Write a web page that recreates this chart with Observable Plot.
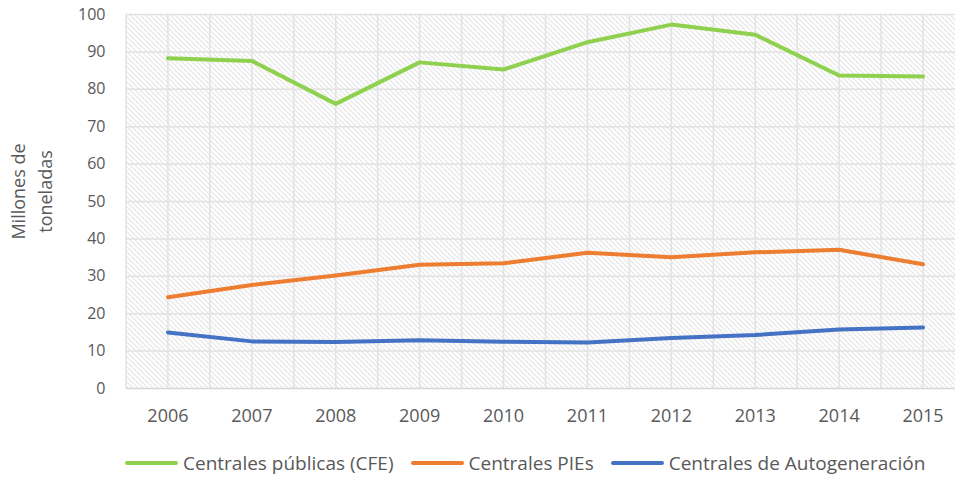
<!DOCTYPE html>
<html>
<head>
<meta charset="utf-8">
<script src="https://cdn.jsdelivr.net/npm/d3@7"></script>
<script src="https://cdn.jsdelivr.net/npm/@observablehq/plot@0.6"></script>
<style>
  html, body { margin: 0; padding: 0; background: #fff; }
  body { width: 955px; height: 479px; overflow: hidden; font-family: "Open Sans", sans-serif; }
  #legend { display: flex; align-items: center; height: 39px; padding-top: 6px; padding-left: 125px; color: #595959; font-size: 19px; box-sizing: border-box; }
  .item { display: flex; align-items: center; margin-right: 17px; white-space: nowrap; }
  .sw { width: 53px; height: 4px; border-radius: 2px; margin-right: 5px; }
</style>
</head>
<body>
<div id="chart"></div>
<div id="legend"></div>
<script>
const years = [2006, 2007, 2008, 2009, 2010, 2011, 2012, 2013, 2014, 2015];
const seriesNames = ["Centrales públicas (CFE)", "Centrales PIEs", "Centrales de Autogeneración"];
const seriesColors = ["#8fd14f", "#ed7d31", "#4472c4"];
const cfe  = [88.3, 87.6, 76.1, 87.2, 85.3, 92.6, 97.3, 94.6, 83.7, 83.4];
const pies = [24.4, 27.7, 30.2, 33.1, 33.5, 36.3, 35.1, 36.4, 37.1, 33.2];
const auto = [15.0, 12.6, 12.4, 12.9, 12.5, 12.3, 13.5, 14.3, 15.8, 16.3];
const yTicks = [0, 10, 20, 30, 40, 50, 60, 70, 80, 90, 100];
const yTitle = "Millones de\ntoneladas";

const seriesValues = [cfe, pies, auto];
const data = seriesValues.flatMap((vals, i) => vals.map((v, j) => ({year: years[j], value: v, series: seriesNames[i]})));
const gridXs = d3.range(years[0] - 0.5, years[years.length - 1] + 1, 0.5);

const svg = Plot.plot({
  width: 955,
  height: 440,
  marginTop: 14,
  marginBottom: 52,
  marginLeft: 126,
  marginRight: 0,
  style: {fontFamily: "'Open Sans', sans-serif", fontSize: "16px", color: "#595959", background: "#fff"},
  x: {type: "linear", domain: [years[0] - 0.5, years[years.length - 1] + 0.5], range: [125.5, 964.5]},
  y: {domain: [0, 100], range: [388, 14]},
  color: {domain: seriesNames, range: seriesColors},
  marks: [
    Plot.frame({fill: "url(#hatch)", stroke: null}),
    Plot.ruleY(yTicks.slice(1), {stroke: "#e2e2e2", strokeWidth: 1.5}),
    Plot.ruleX(gridXs, {y1: 0, y2: 100, stroke: "#e2e2e2", strokeWidth: 1.5}),
    Plot.ruleY([0], {stroke: "#d6d6d6", strokeWidth: 1.5}),
    Plot.line(data, {x: "year", y: "value", z: "series", stroke: "series", strokeWidth: 4, strokeLinecap: "round", strokeLinejoin: "round"}),
    Plot.axisY(yTicks, {tickSize: 0, tickPadding: 21, fontSize: 16, label: null, fill: "#595959"}),
    Plot.axisX(years, {tickSize: 0, tickPadding: 21, fontSize: 18, tickFormat: d => String(d), label: null, fill: "#595959"}),
    Plot.text([yTitle], {frameAnchor: "left", textAnchor: "middle", dx: -97, dy: -10, rotate: -90, fontSize: 18, lineHeight: 1.5, fill: "#595959"})
  ]
});

const ns = "http://www.w3.org/2000/svg";
const defs = document.createElementNS(ns, "defs");
const pat = document.createElementNS(ns, "pattern");
pat.setAttribute("id", "hatch");
pat.setAttribute("patternUnits", "userSpaceOnUse");
pat.setAttribute("width", "5");
pat.setAttribute("height", "5");
const bg = document.createElementNS(ns, "rect");
bg.setAttribute("width", "5"); bg.setAttribute("height", "5"); bg.setAttribute("fill", "#ffffff");
const p = document.createElementNS(ns, "path");
p.setAttribute("d", "M-1,-1L6,6M-1,4L1,6M4,-1L6,1");
p.setAttribute("stroke", "#d2d2d2");
p.setAttribute("stroke-width", "1");
pat.appendChild(bg);
pat.appendChild(p);
defs.appendChild(pat);
svg.insertBefore(defs, svg.firstChild);
document.getElementById("chart").appendChild(svg);

const legend = document.getElementById("legend");
seriesNames.forEach((name, i) => {
  const it = document.createElement("div");
  it.className = "item";
  const sw = document.createElement("div");
  sw.className = "sw";
  sw.style.background = seriesColors[i];
  const t = document.createElement("span");
  t.textContent = name;
  it.appendChild(sw);
  it.appendChild(t);
  legend.appendChild(it);
});
</script>
</body>
</html>
